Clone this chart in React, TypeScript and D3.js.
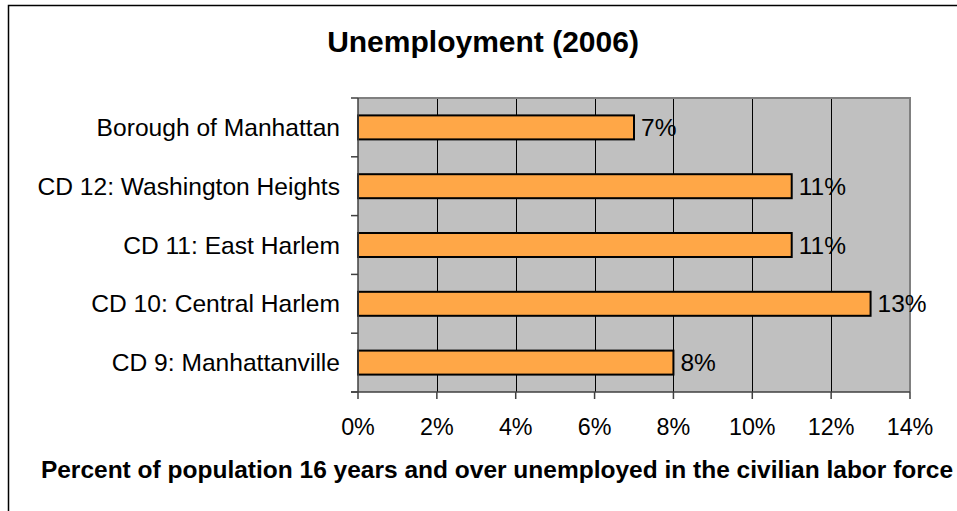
import React, { useRef, useEffect } from 'react';
import * as d3 from 'd3';

const categories = [
  'Borough of Manhattan',
  'CD 12: Washington Heights',
  'CD 11: East Harlem',
  'CD 10: Central Harlem',
  'CD 9: Manhattanville',
];
const values = [7, 11, 11, 13, 8];
const xTicks = [0, 2, 4, 6, 8, 10, 12, 14];

const title = 'Unemployment (2006)';
const xTitle = 'Percent of population 16 years and over unemployed in the civilian labor force';

const App: React.FC = () => {
  const svgRef = useRef<SVGSVGElement>(null);

  useEffect(() => {
    if (!svgRef.current) return;
    const width = 957;
    const height = 511;
    const plot = { left: 358, right: 910, top: 98, bottom: 392 };
    const font = 'Arial, "Liberation Sans", sans-serif';

    const svg = d3.select(svgRef.current)
      .attr('width', width)
      .attr('height', height);

    svg.selectAll('*').remove();

    svg.append('rect')
      .attr('width', width).attr('height', height)
      .attr('fill', '#fff');

    // outer chart border (cropped on right and bottom)
    svg.append('rect')
      .attr('x', 8.5).attr('y', 5.5)
      .attr('width', width + 20).attr('height', height + 20)
      .attr('fill', 'none')
      .attr('stroke', '#000')
      .attr('stroke-width', 1.5);

    const x = d3.scaleLinear().domain([0, 14]).range([plot.left, plot.right]);
    const y = d3.scaleBand<string>()
      .domain(categories)
      .range([plot.top, plot.bottom])
      .paddingInner(0.592)
      .paddingOuter(0.296);

    // plot background
    svg.append('rect')
      .attr('x', plot.left).attr('y', plot.top)
      .attr('width', plot.right - plot.left)
      .attr('height', plot.bottom - plot.top)
      .attr('fill', '#c0c0c0');

    // gridlines
    svg.append('g')
      .selectAll('line')
      .data(xTicks.slice(1, -1))
      .join('line')
      .attr('x1', d => Math.round(x(d)) + 0.5)
      .attr('x2', d => Math.round(x(d)) + 0.5)
      .attr('y1', plot.top)
      .attr('y2', plot.bottom)
      .attr('stroke', '#000')
      .attr('stroke-width', 1);

    // top and right border of plot
    svg.append('path')
      .attr('d', `M${plot.left},${plot.top} H${plot.right} V${plot.bottom}`)
      .attr('fill', 'none')
      .attr('stroke', '#808080')
      .attr('stroke-width', 2);

    // bars
    svg.append('g')
      .selectAll('rect')
      .data(categories)
      .join('rect')
      .attr('x', x(0))
      .attr('y', d => y(d)!)
      .attr('width', (d, i) => x(values[i]) - x(0))
      .attr('height', y.bandwidth())
      .attr('fill', '#ffa747')
      .attr('stroke', '#000')
      .attr('stroke-width', 2);

    // value labels
    svg.append('g')
      .selectAll('text')
      .data(categories)
      .join('text')
      .attr('x', (d, i) => x(values[i]) + 7)
      .attr('y', d => y(d)! + y.bandwidth() / 2 + 8.5)
      .attr('font-family', font)
      .attr('font-size', 24.5)
      .attr('fill', '#000')
      .text((d, i) => `${values[i]}%`);

    // axes lines
    svg.append('line')
      .attr('x1', plot.left).attr('x2', plot.left)
      .attr('y1', plot.top).attr('y2', plot.bottom)
      .attr('stroke', '#404040').attr('stroke-width', 1.5);
    svg.append('line')
      .attr('x1', plot.left - 7).attr('x2', plot.right)
      .attr('y1', plot.bottom).attr('y2', plot.bottom)
      .attr('stroke', '#404040').attr('stroke-width', 1.5);

    // y ticks at band boundaries
    const boundaries = categories.map(c => y(c)! - (y.step() - y.bandwidth()) / 2)
      .concat([plot.bottom]);
    svg.append('g')
      .selectAll('line')
      .data(boundaries)
      .join('line')
      .attr('x1', plot.left - 7).attr('x2', plot.left)
      .attr('y1', d => d).attr('y2', d => d)
      .attr('stroke', '#404040').attr('stroke-width', 1.5);

    // x ticks
    svg.append('g')
      .selectAll('line')
      .data(xTicks)
      .join('line')
      .attr('x1', d => x(d)).attr('x2', d => x(d))
      .attr('y1', plot.bottom).attr('y2', plot.bottom + 7)
      .attr('stroke', '#404040').attr('stroke-width', 1.5);

    // category labels
    svg.append('g')
      .selectAll('text')
      .data(categories)
      .join('text')
      .attr('x', plot.left - 18)
      .attr('y', d => y(d)! + y.bandwidth() / 2 + 8.5)
      .attr('text-anchor', 'end')
      .attr('font-family', font)
      .attr('font-size', 24.6)
      .attr('fill', '#000')
      .text(d => d);

    // tick labels
    svg.append('g')
      .selectAll('text')
      .data(xTicks)
      .join('text')
      .attr('x', d => x(d))
      .attr('y', 435)
      .attr('text-anchor', 'middle')
      .attr('font-family', font)
      .attr('font-size', 23.3)
      .attr('fill', '#000')
      .text(d => `${d}%`);

    svg.append('text')
      .attr('x', 483).attr('y', 52)
      .attr('text-anchor', 'middle')
      .attr('font-family', font)
      .attr('font-size', 30)
      .attr('font-weight', 'bold')
      .text(title);

    svg.append('text')
      .attr('x', 497).attr('y', 478)
      .attr('text-anchor', 'middle')
      .attr('font-family', font)
      .attr('font-size', 24.5)
      .attr('font-weight', 'bold')
      .text(xTitle);
  }, []);

  return (
    <div style={{ position: 'absolute', left: 0, top: 0 }}>
      <svg ref={svgRef} style={{ display: 'block' }}></svg>
    </div>
  );
};

export default App;
